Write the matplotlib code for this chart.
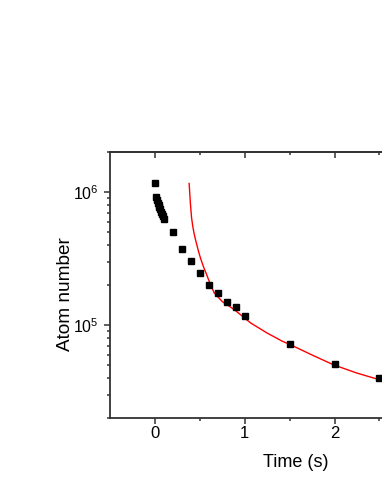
import numpy as np
import matplotlib
matplotlib.use('Agg')
import matplotlib.pyplot as plt
from matplotlib.ticker import LogLocator, NullFormatter, FixedLocator

# measured atom number vs time
time_s = [0.0, 0.01, 0.02, 0.03, 0.04, 0.05, 0.06, 0.07, 0.08, 0.09, 0.10,
          0.2, 0.3, 0.4, 0.5, 0.6, 0.7, 0.8, 0.9, 1.0, 1.5, 2.0, 2.5]
atoms = [1.16e6, 9.1e5, 8.7e5, 8.3e5, 8.0e5, 7.7e5, 7.4e5, 7.1e5, 6.8e5, 6.6e5, 6.3e5,
         5.0e5, 3.75e5, 3.04e5, 2.48e5, 1.99e5, 1.75e5, 1.48e5, 1.36e5, 1.16e5,
         7.2e4, 5.05e4, 4.03e4]

# fit curve
fit_t = [0.381, 0.395, 0.408, 0.422, 0.437, 0.455, 0.474, 0.492, 0.511, 0.54, 0.567,
         0.614, 0.659, 0.75, 0.881, 1.067, 1.25, 1.419, 1.511, 1.75, 1.992, 2.25, 2.511, 2.6]
fit_n = [1.16e6, 8.2e5, 6.4e5, 5.5e5, 4.84e5, 4.3e5, 3.83e5, 3.45e5, 3.13e5, 2.75e5, 2.48e5,
         2.05e5, 1.75e5, 1.5e5, 1.31e5, 1.035e5, 8.7e4, 7.55e4, 7.1e4, 5.95e4, 5.01e4, 4.35e4,
         3.86e4, 3.7e4]

plt.rcParams['font.family'] = ['Liberation Sans', 'DejaVu Sans']
plt.rcParams['mathtext.fontset'] = 'custom'
plt.rcParams['mathtext.rm'] = 'Liberation Sans'
plt.rcParams['mathtext.it'] = 'Liberation Sans'

fig = plt.figure(figsize=(3.82, 4.94), dpi=100)
# the axes run past the right edge of the picture, as in the original crop
ax = fig.add_axes([110 / 382, 76 / 494, 371 / 382, 266 / 494])

ax.plot(fit_t, fit_n, color='red', lw=1.0, zorder=2)
ax.plot(time_s, atoms, 's', color='black', ms=5, zorder=3)

ax.set_yscale('log')
ax.set_xlim(-0.5, 3.63)
ax.set_ylim(2e4, 2e6)

ax.xaxis.set_major_locator(FixedLocator([0, 1, 2]))
ax.xaxis.set_minor_locator(FixedLocator([0.5, 1.5, 2.5]))
ax.yaxis.set_major_locator(FixedLocator([1e5, 1e6]))
ax.yaxis.set_minor_locator(LogLocator(base=10, subs=np.arange(2, 10)))
ax.yaxis.set_minor_formatter(NullFormatter())
ax.set_yticklabels(['$10^5$', '$10^6$'])

ax.tick_params(axis='both', which='major', direction='out', length=4, width=1.1,
               colors='#333333', labelcolor='black')
ax.tick_params(axis='both', which='minor', direction='out', length=2.3, width=1.1, colors='#333333')
ax.tick_params(axis='x', pad=2, labelsize=12)
ax.tick_params(axis='y', pad=4, labelsize=11.5)

top = ax.secondary_xaxis('top')
top.xaxis.set_major_locator(FixedLocator([0, 1, 2]))
top.xaxis.set_minor_locator(FixedLocator([0.5, 1.5, 2.5]))
top.tick_params(which='major', direction='in', length=4, width=1.1, labeltop=False, colors='#333333')
top.tick_params(which='minor', direction='in', length=2.3, width=1.1, colors='#333333')
top.spines['top'].set_linewidth(1.3)
top.spines['top'].set_color('#333333')

for s in ax.spines.values():
    s.set_linewidth(1.3)
    s.set_color('#333333')

ax.set_xlabel('Time (s)', fontsize=13, labelpad=9)
ax.set_ylabel('Atom number', fontsize=13.7)
ax.yaxis.set_label_coords(-0.097, 0.466)

fig.savefig('out.png', dpi=100)
